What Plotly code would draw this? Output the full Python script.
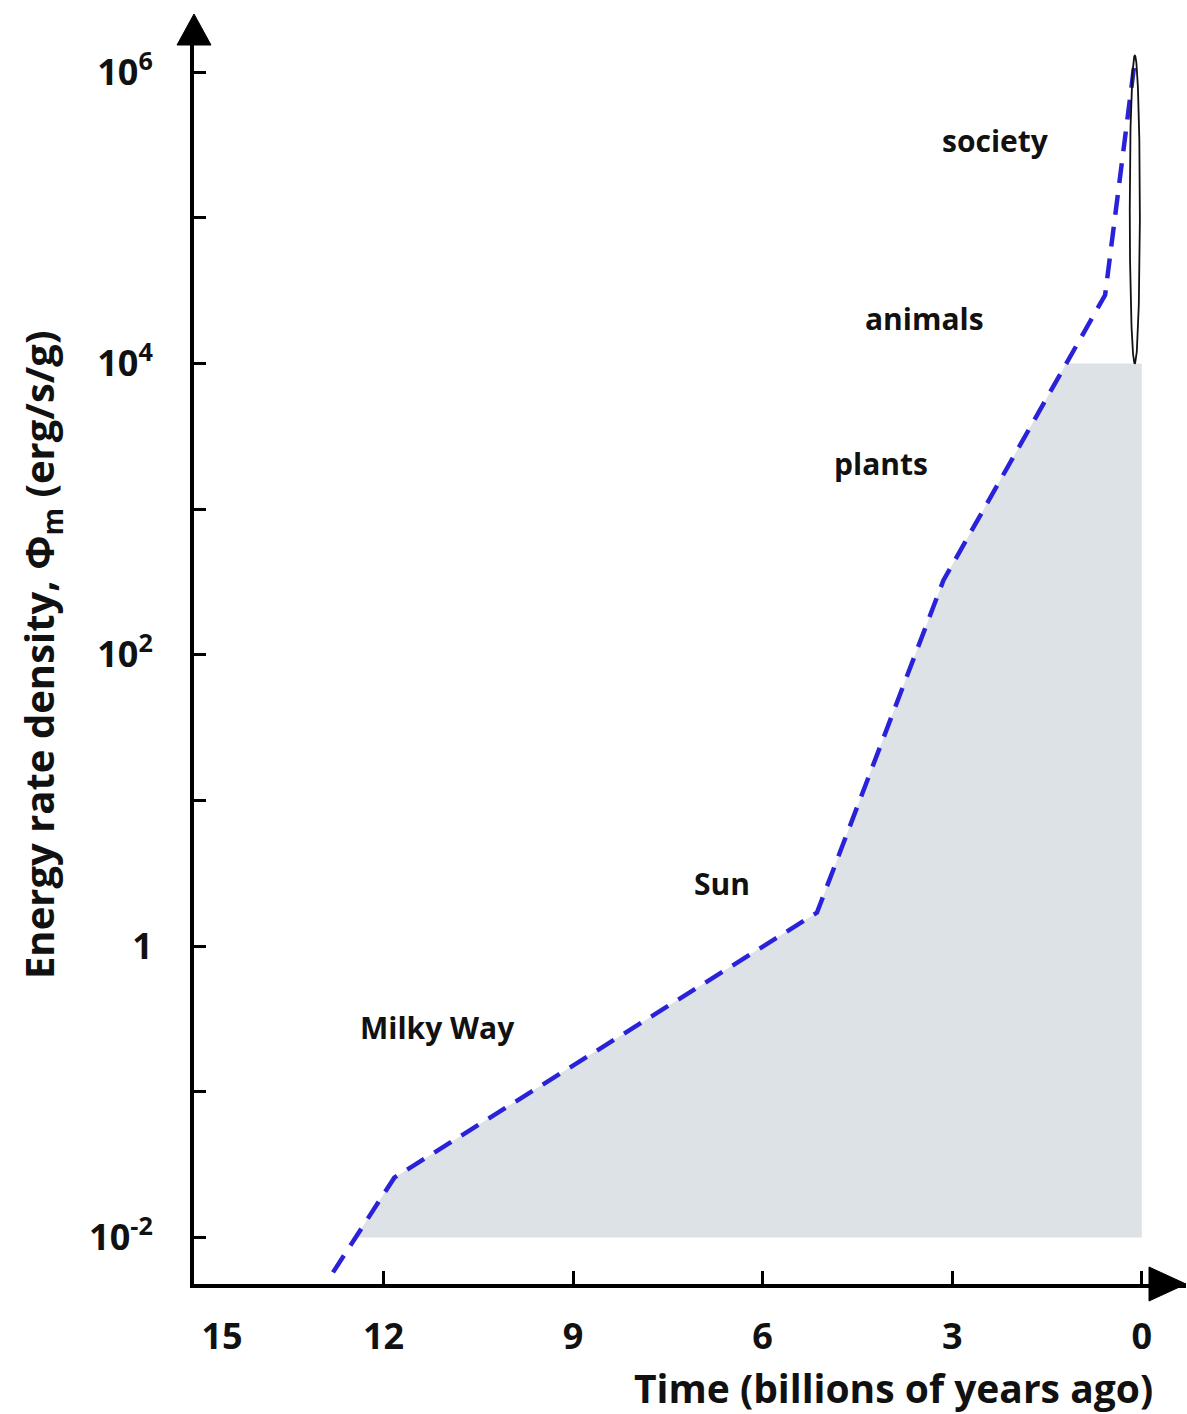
import numpy as np
import plotly.graph_objects as go

# ---- data ----
time_gyr = [12.80, 11.83, 5.14, 3.14, 0.58, 0.11]          # billions of years ago
phi_m = [10**-2.24, 10**-1.59, 10**0.23, 10**2.51, 10**4.47, 10**6.08]  # erg/s/g

label_text = ["society", "animals", "plants", "Sun", "Milky Way"]
label_time = [2.31, 3.44, 4.13, 6.64, 11.14]
label_phi = [10**5.53, 10**4.31, 10**3.31, 10**0.43, 10**-0.56]

society_time = 0.11
society_halfwidth = 0.08
society_range = [1e4, 1.3e6]

shade_floor = 1e-2
shade_ceiling = 1e4

x_tickvals = [15, 12, 9, 6, 3, 0]
x_ticktext = ["      15", "12", "9", "6", "3", "0"]
y_tickvals = [1e-2, 1e-1, 1e0, 1e1, 1e2, 1e3, 1e4, 1e5, 1e6]
y_ticktext = ["10<sup>-2</sup>", "", "1", "", "10<sup>2</sup>", "", "10<sup>4</sup>", "", "10<sup>6</sup>"]

FONT = "Open Sans"
INK = "#111111"

# ---- shaded region under the curve, between floor and ceiling ----
t_arr = np.array(time_gyr)
L_arr = np.log10(phi_m)
lo, hi = np.log10(shade_floor), np.log10(shade_ceiling)
t_lo = np.interp(lo, L_arr, t_arr)
t_hi = np.interp(hi, L_arr, t_arr)
inner = (L_arr > lo) & (L_arr < hi)
shade_t = [t_lo] + list(t_arr[inner]) + [t_hi, 0, 0]
shade_L = [lo] + list(L_arr[inner]) + [hi, hi, lo]
shade_y = [10**v for v in shade_L]

# ---- society ellipse (drawn in log space) ----
th = np.linspace(0, 2*np.pi, 200)
lc = (np.log10(society_range[0]) + np.log10(society_range[1])) / 2
lr = (np.log10(society_range[1]) - np.log10(society_range[0])) / 2
ell_x = society_time + society_halfwidth * np.cos(th)
ell_y = 10**(lc + lr * np.sin(th))

fig = go.Figure()
fig.add_trace(go.Scatter(x=shade_t, y=shade_y, fill="toself", mode="none",
                         fillcolor="#dde2e7", hoverinfo="skip", showlegend=False))
fig.add_trace(go.Scatter(x=time_gyr, y=phi_m, mode="lines",
                         line=dict(color="#2a22d8", width=4.5, dash="20px,12px"),
                         showlegend=False))
fig.add_trace(go.Scatter(x=ell_x, y=ell_y, mode="lines",
                         line=dict(color="#111111", width=1.8), showlegend=False))

for txt, tx, ty in zip(label_text, label_time, label_phi):
    fig.add_annotation(x=tx, y=np.log10(ty), text=txt, showarrow=False,
                       font=dict(family=FONT, size=30, color=INK, weight=700))

# axis titles
fig.add_annotation(xref="paper", yref="paper", x=0.969, y=-0.083,
                   xanchor="right", yanchor="middle", showarrow=False,
                   text="Time (billions of years ago)",
                   font=dict(family=FONT, size=39, color=INK, weight=700))
fig.add_annotation(xref="paper", yref="paper", x=-0.154, y=0.507,
                   xanchor="center", yanchor="middle", showarrow=False, textangle=-90,
                   text="Energy rate density, Φ<sub>m</sub> (erg/s/g)",
                   font=dict(family=FONT, size=40, color=INK, weight=700))

# arrowheads
fig.add_shape(type="path", xref="paper", yref="paper", xsizemode="pixel", ysizemode="pixel",
              xanchor=1, yanchor=0, path="M -37 -17 L 0 0 L -37 17 Z",
              fillcolor="black", line=dict(color="black", width=1))
fig.add_shape(type="path", xref="paper", yref="paper", xsizemode="pixel", ysizemode="pixel",
              xanchor=0, yanchor=1, path="M -17 -2 L 0 29 L 17 -2 Z",
              fillcolor="black", line=dict(color="black", width=1))

fig.update_layout(
    width=1187, height=1414,
    margin=dict(l=194, r=1, t=43, b=130),
    paper_bgcolor="white", plot_bgcolor="white",
    xaxis=dict(range=[15, -0.7], showgrid=False, zeroline=False,
               showline=True, linewidth=4, linecolor="black",
               tickvals=x_tickvals, ticktext=x_ticktext,
               ticks="inside", ticklen=13, tickwidth=3, tickcolor="black",
               ticklabelstandoff=18,
               tickfont=dict(family=FONT, size=36, color=INK, weight=700)),
    yaxis=dict(type="log", range=[-2.32, 6.2], showgrid=False, zeroline=False,
               showline=True, linewidth=4, linecolor="black",
               tickvals=y_tickvals, ticktext=y_ticktext,
               ticks="inside", ticklen=12, tickwidth=3, tickcolor="black",
               ticklabelstandoff=30,
               tickfont=dict(family=FONT, size=36, color=INK, weight=700)),
)

fig.write_html("out.html", config={"displayModeBar": False},
               post_script="document.body.style.margin='0';document.body.style.overflow='hidden';")
